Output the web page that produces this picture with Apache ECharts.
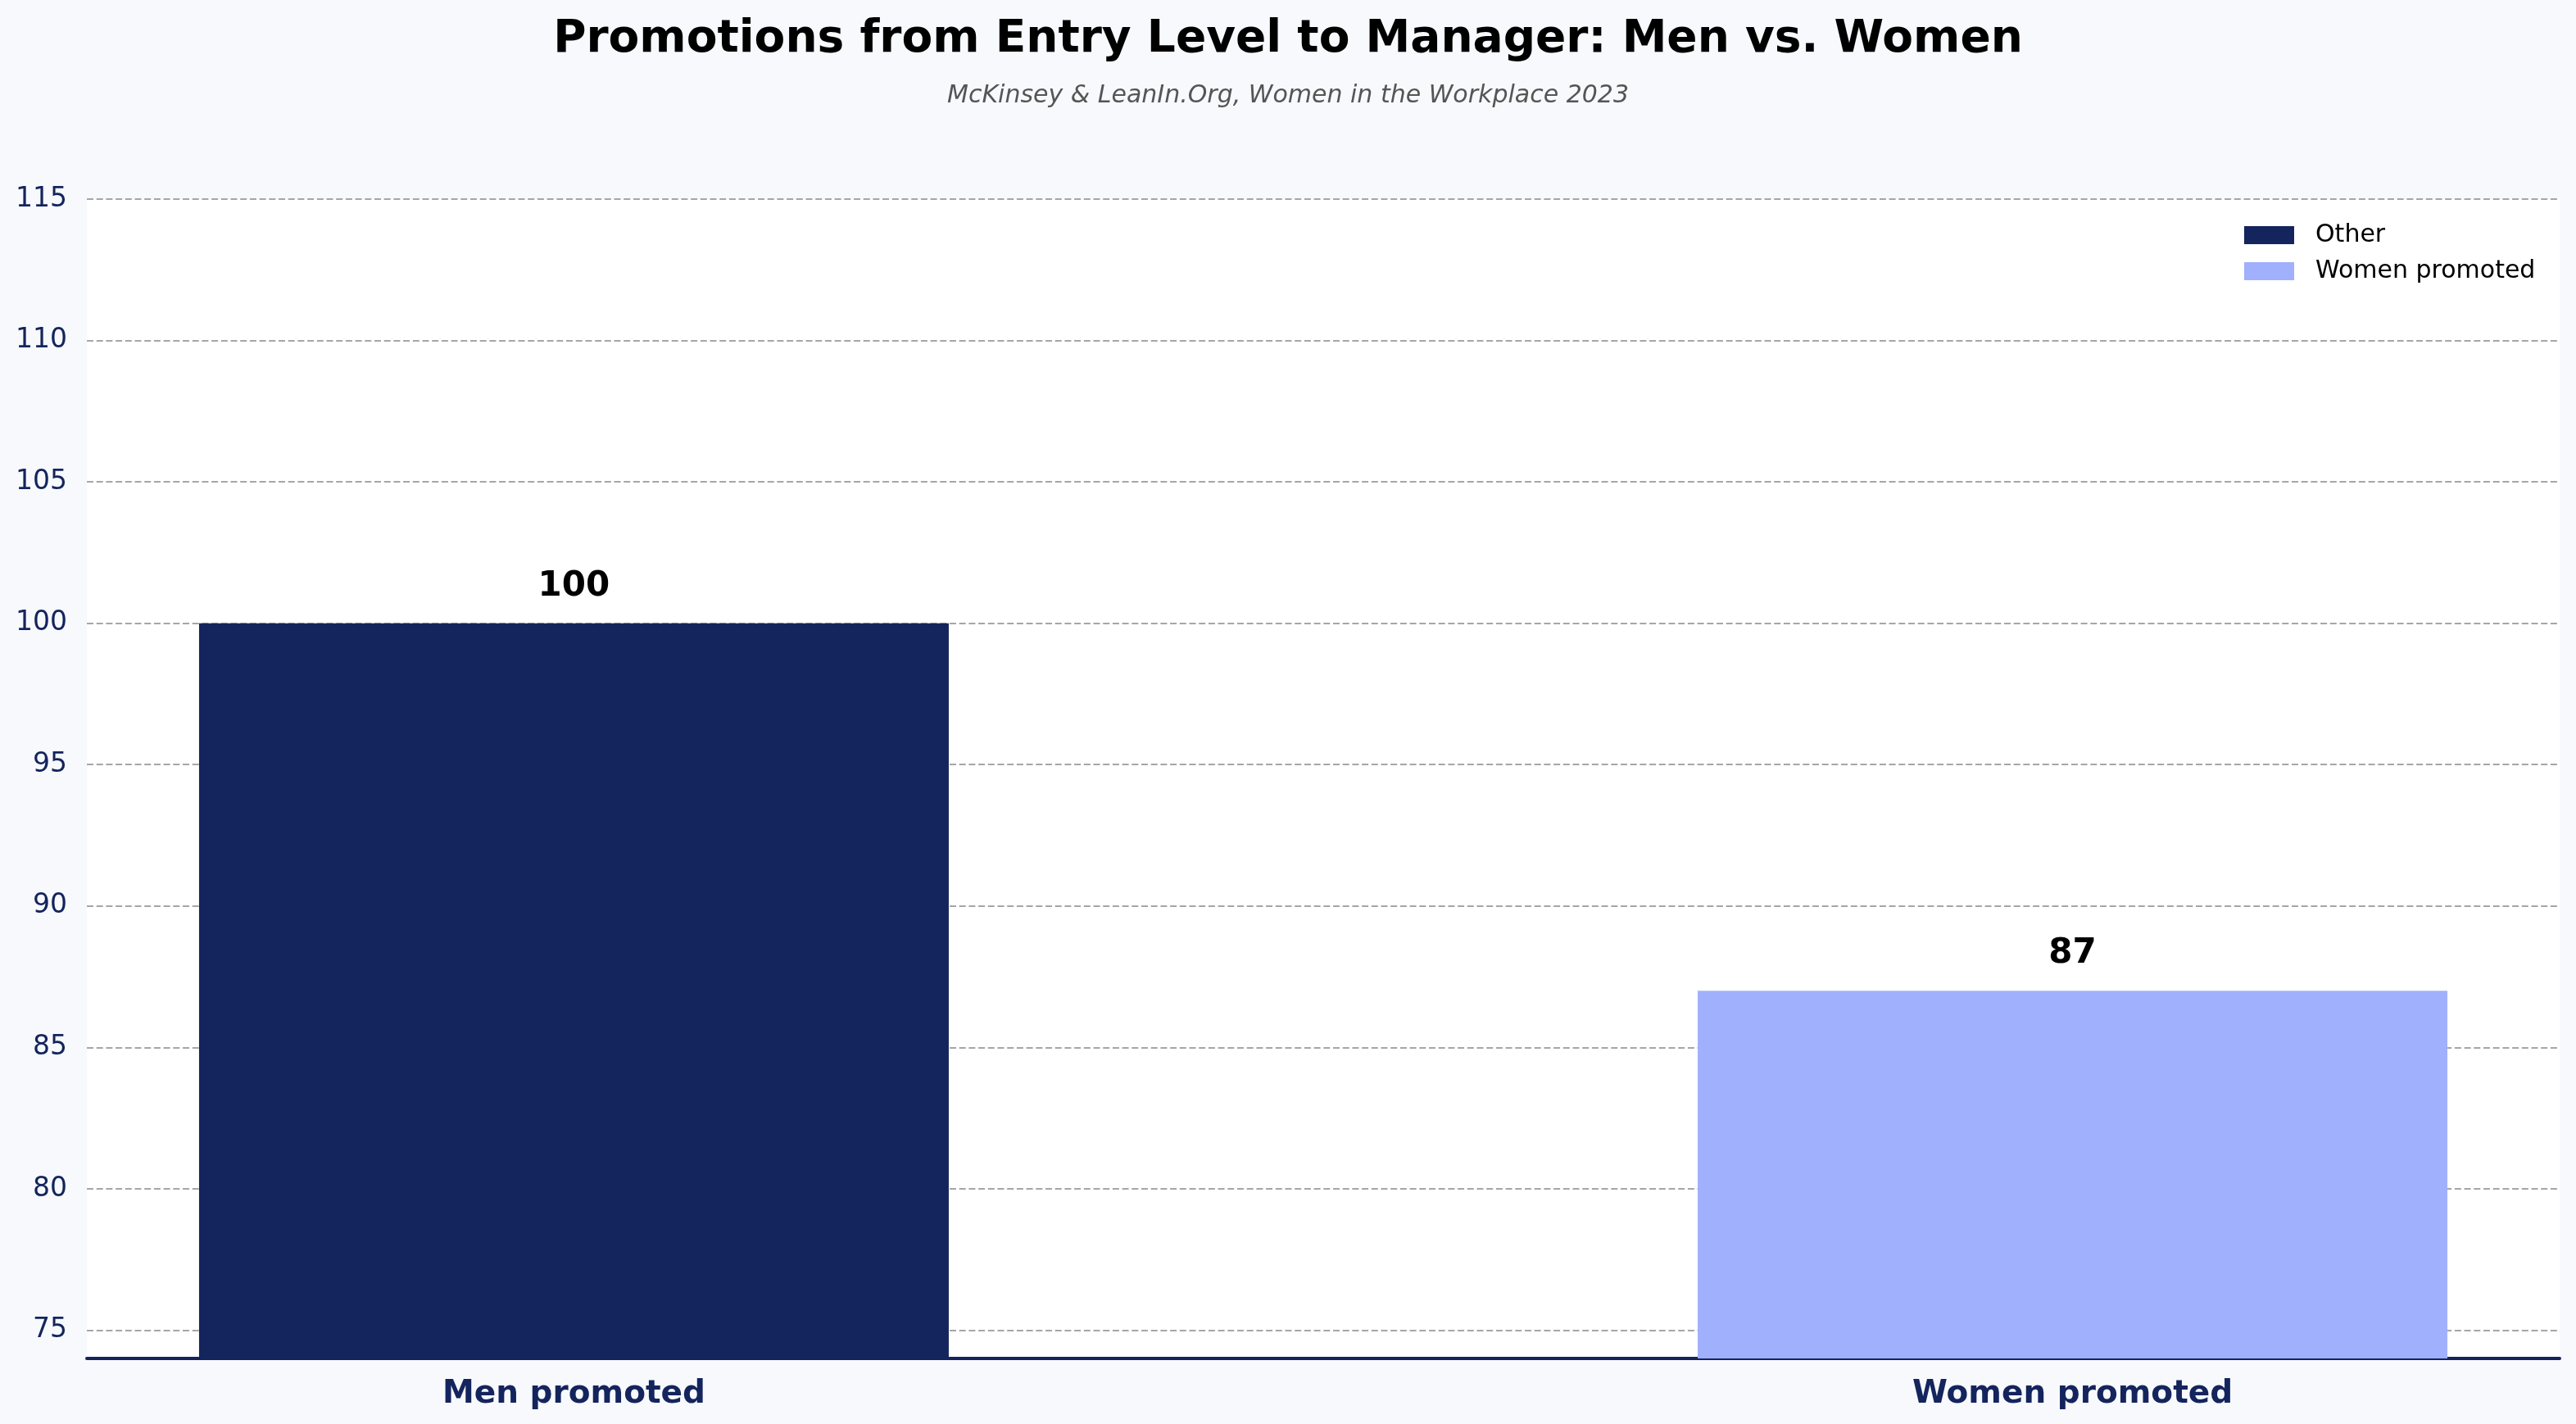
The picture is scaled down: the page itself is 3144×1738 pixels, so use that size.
<!DOCTYPE html>
<html>
  <head>
    <meta charset="UTF-8" />
    <title>Promotions from Entry Level to Manager</title>
    <style>
      html, body { margin: 0; padding: 0; background: #f7f9fd; }
      #chart { width: 3144px; height: 1738px; }
    </style>
    <script src="https://cdn.jsdelivr.net/npm/echarts@6/dist/echarts.min.js"></script>
  </head>
  <body>
    <div id="chart"></div>
    <script>
      // data
      const categories = ["Men promoted", "Women promoted"];
      const legendNames = ["Other", "Women promoted"];
      const values = [100, 87];
      const yTicks = [75, 80, 85, 90, 95, 100, 105, 110, 115];

      const NAVY = "#14245c";
      const LIGHT = "#a0b0fc";
      const FONT = "DejaVu Sans";

      const chart = echarts.init(document.getElementById("chart"));

      const series = legendNames.map(function (name, i) {
        return {
          name: name,
          type: "bar",
          barWidth: 915,
          barGap: "-100%",
          itemStyle: { color: i === 0 ? NAVY : LIGHT },
          label: {
            show: true,
            position: "top",
            distance: 24,
            fontFamily: FONT,
            fontWeight: "bold",
            fontSize: 42,
            color: "#000",
            formatter: function (p) { return p.value[1]; }
          },
          data: [[i, values[i]]]
        };
      });

      chart.setOption({
        backgroundColor: "#f7f9fd",
        animation: false,
        title: [
          {
            text: "Promotions from Entry Level to Manager: Men vs. Women",
            left: "center",
            top: 16,
            textStyle: { fontFamily: FONT, fontWeight: "bold", fontSize: 55, color: "#000" }
          },
          {
            text: "McKinsey & LeanIn.Org, Women in the Workplace 2023",
            left: "center",
            top: 97,
            textStyle: { fontFamily: FONT, fontStyle: "italic", fontWeight: "normal", fontSize: 30, color: "#555" }
          }
        ],
        legend: {
          data: legendNames,
          orient: "vertical",
          left: 2739,
          top: 272,
          padding: 0,
          itemWidth: 61,
          itemHeight: 22,
          itemGap: 14,
          icon: "rect",
          textStyle: { fontFamily: FONT, fontSize: 30, color: "#000", padding: [0, 0, 0, 21] }
        },
        grid: {
          left: 106,
          right: 20,
          top: 243,
          bottom: 80,
          show: true,
          backgroundColor: "#ffffff",
          borderWidth: 0
        },
        xAxis: {
          type: "value",
          min: -0.325,
          max: 1.325,
          axisLine: { show: true, lineStyle: { color: NAVY, width: 4 } },
          axisTick: { show: false, customValues: [0, 1] },
          splitLine: { show: false },
          axisLabel: {
            customValues: [0, 1],
            margin: 24,
            fontFamily: FONT,
            fontWeight: "bold",
            fontSize: 39,
            color: NAVY,
            formatter: function (v) { return categories[Math.round(v)]; }
          }
        },
        yAxis: {
          type: "value",
          min: 74,
          max: 115,
          axisLine: { show: false },
          axisTick: { show: false, customValues: yTicks },
          axisLabel: {
            customValues: yTicks,
            margin: 24,
            fontFamily: FONT,
            fontSize: 33,
            color: NAVY
          },
          splitLine: {
            show: true,
            lineStyle: { color: "#a6a6a6", width: 2, type: [8, 3.7] }
          }
        },
        series: series
      });
    </script>
  </body>
</html>
